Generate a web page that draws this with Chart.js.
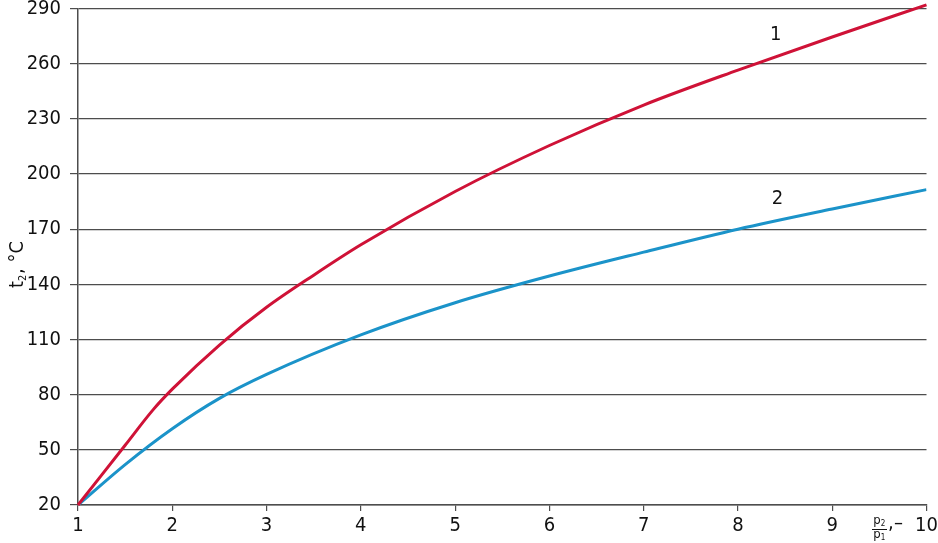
<!DOCTYPE html>
<html>
<head>
<meta charset="utf-8">
<script src="https://cdn.jsdelivr.net/npm/chart.js@4/dist/chart.umd.min.js"></script>
<style>
  html, body { margin: 0; padding: 0; background: #fff; }
  #wrap { width: 938px; height: 543px; }
</style>
</head>
<body>
<div id="wrap"><canvas id="grafico" width="938" height="543"></canvas></div>
<script>
// Datos

const ratio1 = [1, 1.5, 1.8, 2, 2.5, 3, 3.5, 4, 5, 6, 7, 8, 9, 10];
const temp1 = [20, 52.5, 72, 83, 107, 127.5, 145, 161.5, 190.5, 215.5, 237.5, 256.5, 274.5, 292];

const ratio2 = [1, 1.5, 2, 2.5, 3, 4, 5, 6, 7, 8, 9, 10];
const temp2 = [20, 42, 61.5, 78, 91, 112.5, 130, 144.5, 157.5, 170, 181, 191.5];

const yTicks = [20, 50, 80, 110, 140, 170, 200, 230, 260, 290];
const xTicks = [1, 2, 3, 4, 5, 6, 7, 8, 9, 10];

const curveLabels = ["1", "2"];
const labelX = [8.4, 8.42];
const labelY = [275.5, 186.5];

const fuente = "'DejaVu Sans Condensed', 'Liberation Sans Narrow', sans-serif";
const rojo = "#cf1237";
const azul = "#1b93c9";

// Pasar arrays a puntos

let puntos = (xs, ys) => xs.map((x, i) => ({ x: x, y: ys[i] }));

// Textos extra: titulo eje y, fraccion p2/p1, numeros de curvas

const textos = {
    id: "textos",
    afterDraw: (chart) => {
        const c = chart.ctx;
        const sx = chart.scales.x;
        const sy = chart.scales.y;
        c.save();
        c.fillStyle = "#111";
        c.textAlign = "center";
        c.textBaseline = "middle";

        // numeros de las curvas
        c.font = "20px " + fuente;
        for (let i = 0; i < curveLabels.length; i++) {
            c.fillText(curveLabels[i], sx.getPixelForValue(labelX[i]), sy.getPixelForValue(labelY[i]));
        }

        // titulo eje y
        c.save();
        c.translate(18, 264);
        c.rotate(-Math.PI / 2);
        c.font = "20px " + fuente;
        c.textAlign = "left";
        const w1 = c.measureText("t").width;
        const total = w1 + 8 + c.measureText(", °C").width;
        let x0 = -total / 2;
        c.fillText("t", x0, 0);
        c.font = "11px " + fuente;
        c.fillText("2", x0 + w1, 5);
        c.font = "20px " + fuente;
        c.fillText(", °C", x0 + w1 + 7, 0);
        c.restore();

        // fraccion p2/p1
        const fx = 879;
        c.font = "13px " + fuente;
        c.fillText("p", fx - 2, 521);
        c.font = "8px " + fuente;
        c.fillText("2", fx + 4, 524);
        c.font = "13px " + fuente;
        c.fillText("p", fx - 2, 535);
        c.font = "8px " + fuente;
        c.fillText("1", fx + 4, 538);
        c.strokeStyle = "#111";
        c.lineWidth = 1;
        c.beginPath();
        c.moveTo(fx - 7, 529.5);
        c.lineTo(fx + 8, 529.5);
        c.stroke();
        c.font = "20px " + fuente;
        c.textAlign = "left";
        c.fillText(",", fx + 9, 524);
        c.fillText("–", fx + 15, 524);
        c.restore();
    }
};

const grafico = new Chart(document.getElementById("grafico"), {
    type: "line",
    data: {
        datasets: [
            {
                label: "1",
                data: puntos(ratio1, temp1),
                borderColor: rojo,
                borderWidth: 3,
                pointRadius: 0,
                cubicInterpolationMode: "monotone",
                clip: 6,
                fill: false
            },
            {
                label: "2",
                data: puntos(ratio2, temp2),
                borderColor: azul,
                borderWidth: 3,
                pointRadius: 0,
                cubicInterpolationMode: "monotone",
                fill: false
            }
        ]
    },
    options: {
        responsive: false,
        animation: false,
        events: [],
        layout: { padding: { top: 8.5, right: 11.5, left: 0, bottom: 0 } },
        plugins: {
            legend: { display: false },
            tooltip: { enabled: false }
        },
        scales: {
            x: {
                type: "linear",
                min: 1,
                max: 10,
                afterBuildTicks: (axis) => { axis.ticks = xTicks.map(v => ({ value: v })); },
                afterFit: (axis) => {
                    axis.height = 38;
                    axis.paddingLeft = 0;
                    axis.paddingRight = 0;
                },
                grid: {
                    drawOnChartArea: false,
                    drawTicks: true,
                    tickLength: 6,
                    color: "#4d4d4d",
                    lineWidth: 1.2
                },
                border: { display: true, color: "#4d4d4d", width: 1.5 },
                ticks: {
                    padding: 3,
                    color: "#111",
                    maxRotation: 0,
                    font: { family: fuente, size: 20 }
                }
            },
            y: {
                type: "linear",
                min: 20,
                max: 290,
                afterBuildTicks: (axis) => { axis.ticks = yTicks.map(v => ({ value: v })); },
                afterFit: (axis) => {
                    axis.width = 78;
                    axis.paddingTop = 0;
                    axis.paddingBottom = 0;
                },
                grid: {
                    drawTicks: true,
                    tickLength: 8,
                    color: "#4d4d4d",
                    lineWidth: 1.2
                },
                border: { display: true, color: "#4d4d4d", width: 1.5 },
                ticks: {
                    padding: 9,
                    color: "#111",
                    font: { family: fuente, size: 20 }
                }
            }
        }
    },
    plugins: [textos]
});
</script>
</body>
</html>
